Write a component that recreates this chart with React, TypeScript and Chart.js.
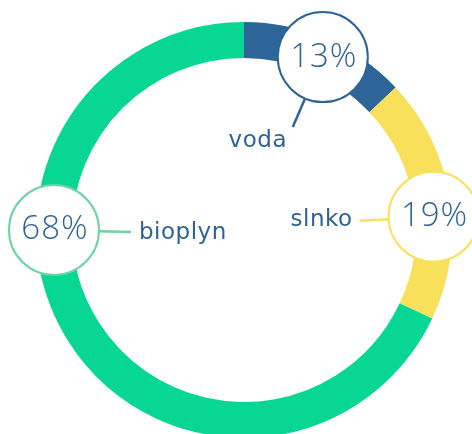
import React, { useEffect, useRef } from "react";
import { Chart, registerables } from "chart.js";

Chart.register(...registerables);

const categories = ["voda", "slnko", "bioplyn"];
const values = [13, 19, 68];
const colors = ["#2e6599", "#f9e05a", "#08d793"];
const strokeColors = ["#2e6599", "#f9e05a", "#6ad4a2"];

// callout layout: angle (deg clockwise from top) of bubble on ring, leader & label offsets from bubble centre
const calloutAngles = [24.5, 86, 270];
const leaderDirs = [
  { dx: -30, dy: 70 },
  { dx: -74, dy: 4 },
  { dx: 77, dy: 2 },
];
const labelPos = [
  { dx: -65, dy: 84, align: "center" as CanvasTextAlign },
  { dx: -81, dy: 3, align: "right" as CanvasTextAlign },
  { dx: 85, dy: 3, align: "left" as CanvasTextAlign },
];

const PCT_FONT = "'Open Sans', Lato, sans-serif";
const LABEL_FONT = "'DejaVu Sans', sans-serif";
const TEXT = "#2e6298";

const calloutPlugin = {
  id: "callouts",
  afterDraw(chart: any) {
    const meta = chart.getDatasetMeta(0);
    const ctx: any = chart.ctx;
    const R = 45;
    meta.data.forEach((arc: any, i: number) => {
      const p = arc.getProps(["x", "y", "innerRadius", "outerRadius"], true);
      const mid = (p.innerRadius + p.outerRadius) / 2;
      const a = (calloutAngles[i] * Math.PI) / 180;
      const cx = p.x + mid * Math.sin(a);
      const cy = p.y - mid * Math.cos(a);
      ctx.save();
      const ld = leaderDirs[i];
      const len = Math.hypot(ld.dx, ld.dy);
      ctx.strokeStyle = strokeColors[i];
      ctx.lineWidth = 2.5;
      ctx.beginPath();
      ctx.moveTo(cx + (ld.dx / len) * R, cy + (ld.dy / len) * R);
      ctx.lineTo(cx + ld.dx, cy + ld.dy);
      ctx.stroke();
      ctx.beginPath();
      ctx.arc(cx, cy, R, 0, Math.PI * 2);
      ctx.fillStyle = "#ffffff";
      ctx.fill();
      ctx.lineWidth = 2;
      ctx.strokeStyle = strokeColors[i];
      ctx.stroke();
      ctx.fillStyle = TEXT;
      ctx.font = `300 33px ${PCT_FONT}`;
      ctx.letterSpacing = "1px";
      ctx.textAlign = "center";
      ctx.textBaseline = "middle";
      ctx.fillText(`${values[i]}%`, cx + 1, cy);
      const lp = labelPos[i];
      ctx.font = `400 23px ${LABEL_FONT}`;
      ctx.letterSpacing = "0.5px";
      ctx.textAlign = lp.align;
      ctx.fillText(categories[i], cx + lp.dx, cy + lp.dy);
      ctx.restore();
    });
  },
};

export default function App() {
  const ref = useRef<HTMLCanvasElement>(null);
  useEffect(() => {
    document.body.style.margin = "0";
    const chart = new Chart(ref.current!, {
      type: "doughnut",
      data: {
        labels: categories,
        datasets: [
          {
            data: values,
            backgroundColor: colors,
            borderWidth: 0,
            hoverOffset: 0,
          },
        ],
      },
      options: {
        animation: false,
        responsive: false,
        cutout: "82.7%",
        layout: { padding: { left: 36, right: 20, top: 22, bottom: 22 } },
        plugins: { legend: { display: false }, tooltip: { enabled: false } },
        events: [],
      },
      plugins: [calloutPlugin],
    });
    return () => chart.destroy();
  }, []);
  return (
    <div style={{ position: "fixed", left: 0, top: 0, width: 472, height: 434, overflow: "hidden", background: "#fff" }}>
      <canvas ref={ref} width={472} height={460} style={{ display: "block" }} />
    </div>
  );
}
